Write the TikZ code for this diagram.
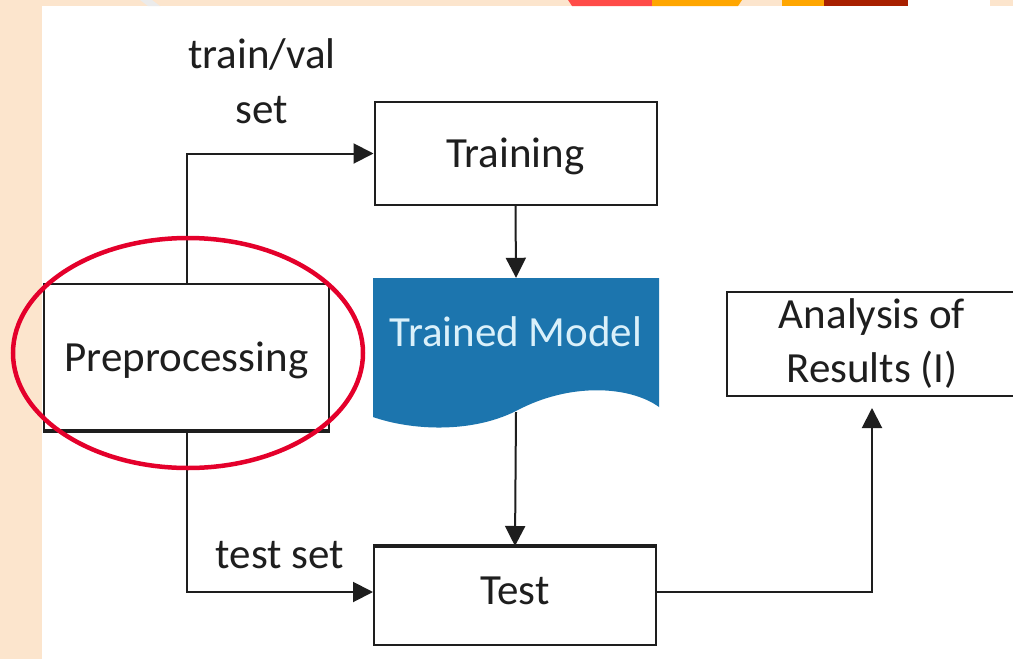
\documentclass[tikz,border=0pt]{standalone}
\usepackage{fontspec}
\setmainfont{Carlito}
\usetikzlibrary{arrows.meta}

\definecolor{peach}{RGB}{252,229,205}
\definecolor{stripred}{RGB}{255,75,72}
\definecolor{striporange}{RGB}{255,166,0}
\definecolor{stripdark}{RGB}{168,32,0}
\definecolor{modelblue}{RGB}{28,117,174}
\definecolor{modeltext}{RGB}{218,240,250}
\definecolor{ringred}{RGB}{228,0,43}
\definecolor{ink}{RGB}{30,30,30}

\begin{document}
\begin{tikzpicture}[x=1pt,y=-1pt,
  every node/.style={font=\fontsize{43}{54}\selectfont, text=ink},
  box/.style={draw=ink, line width=2pt, fill=white, inner sep=0pt},
  oneline/.style={text height=37pt, text depth=9pt},
  arr/.style={draw=ink, line width=2pt, -{Triangle[length=20pt,width=20pt]}},
  lbl/.style={inner sep=0pt, align=center}
]
\useasboundingbox (0,0) rectangle (1013,659);
\clip (0,0) rectangle (1013,659);

% page background and coloured strip along the top
\fill[peach] (0,0) rectangle (1013,659);
\fill[white] (42,6) rectangle (1013,659);
\fill[black!8] (140,0) -- (152,0) -- (160,6) -- (148,6) -- cycle;
\fill[stripred] (568,0) -- (652,0) -- (652,6) -- (572,6) -- cycle;
\fill[striporange] (652,0) -- (742,0) -- (738,6) -- (652,6) -- cycle;
\fill[striporange] (782,0) rectangle (824,6);
\fill[stripdark] (824,0) rectangle (908,6);
\fill[white] (908,0) rectangle (990,6);

% process boxes
\node[box, oneline, minimum width=282pt, minimum height=103pt] (train) at (515.5,153.5) {Training};
\node[box, oneline, minimum width=285pt, minimum height=146pt] (pre) at (186.5,357) {Preprocessing};
\node[box, text height=37pt, text depth=21pt, minimum width=282pt, minimum height=98pt] (test) at (515,596) {Test};
\node[box, align=center, minimum width=290pt, minimum height=104pt] (ana) at (872,344) {Analysis of\\Results (I)};

% document shape for the trained model
\node[inner sep=0pt, minimum width=286pt, minimum height=134pt] (model) at (516,345) {};
\fill[modelblue] (373,278) -- (659,278) -- (659,407)
  .. controls (630,386) and (570,382) .. (516,411)
  .. controls (470,434) and (410,430) .. (373,417) -- cycle;
\node[inner sep=0pt, oneline, text=modeltext] (modellabel) at (516,332) {Trained Model};

% heavier edges
\draw[ink, line width=3.5pt] (pre.south west) -- (pre.south east);
\draw[ink, line width=3.5pt] (test.north west) -- (test.north east);

% connectors
\draw[arr] (pre.north) |- (train.west);
\draw[arr] (pre.south) |- ([yshift=4pt]test.west);
\draw[arr] (train.south) -- (model.north);
\draw[arr] (model.south) -- (test.north);
\draw[arr, shorten >=11pt] ([yshift=4pt]test.east) -| (ana.south);

% connector labels
\node[lbl, font=\fontsize{43}{55}\selectfont] (tvlabel) at (262,81) {train/val\\set};
\node[lbl, anchor=base] (tslabel) at (280,568) {test set};

% highlight ring
\draw[ringred, line width=4.5pt] (188,353) ellipse [x radius=175pt, y radius=115pt];
\end{tikzpicture}
\end{document}
